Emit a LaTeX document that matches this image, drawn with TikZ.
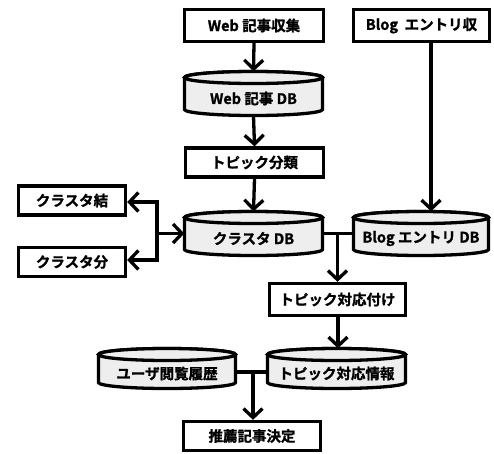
\documentclass[tikz,border=0pt]{standalone}
\usepackage{fontspec}
\setmainfont{Noto Sans CJK JP}[BoldFont={Noto Sans CJK JP Bold},BoldFeatures={FakeBold=1.2}]
\usetikzlibrary{arrows.meta}
\definecolor{cylfill}{HTML}{EEEEEE}
\tikzset{
  lw/.style={line width=3.3pt},
  proc/.style={lw, draw, fill=white, inner sep=0pt, font=\fontsize{14.5}{16}\selectfont\bfseries},
  cylbox/.style={inner sep=0pt, font=\fontsize{14.5}{16}\selectfont\bfseries, yshift=-5pt},
  conn/.style={lw, -{Straight Barb[length=9pt,width=19pt]}},
  plain/.style={lw},
}
% \drawcyl{center x}{center y}{half width}{half height}
\newcommand{\drawcyl}[4]{%
  \path[lw, draw, fill=cylfill]
    (#1-#3,#2+#4-6) -- (#1-#3,#2-#4+6)
    arc[start angle=180,end angle=360,x radius=#3,y radius=6]
    -- (#1+#3,#2+#4-6)
    arc[start angle=0,end angle=180,x radius=#3,y radius=6] -- cycle;
  \draw[lw, fill=cylfill] (#1,#2+#4-6) ellipse[x radius=#3, y radius=6];
}
\begin{document}
\begin{tikzpicture}[x=1pt,y=1pt]
\useasboundingbox (0,0) rectangle (494,-453);
% cylinders
\drawcyl{253.5}{-93.5}{69}{22}
\drawcyl{253.5}{-233.5}{69}{22}
\drawcyl{421}{-233.5}{67.5}{22}
\drawcyl{336.5}{-368.5}{69}{20}
\drawcyl{167}{-368.5}{68.5}{20}
% cylinder nodes (text only)
\node[cylbox, minimum width=138pt, minimum height=44pt] (webdb) at (253.5,-93.5) {Web 記事 DB};
\node[cylbox, minimum width=138pt, minimum height=44pt] (cldb) at (253.5,-233.5) {クラスタ DB};
\node[cylbox, minimum width=135pt, minimum height=44pt] (blogdb) at (421,-233.5) {Blog エントリ DB};
\node[cylbox, minimum width=138pt, minimum height=40pt] (joho) at (336.5,-368.5) {トピック対応情報};
\node[cylbox, minimum width=137pt, minimum height=40pt] (user) at (167,-368.5) {ユーザ閲覧履歴};
% process boxes
\node[proc, minimum width=139pt, minimum height=32pt] (webc) at (254,-25.5) {Web 記事収集};
\node[proc, minimum width=136pt, minimum height=32pt] (blogc) at (421.5,-25.5) {Blog\ \ エントリ収};
\node[proc, minimum width=138pt, minimum height=29pt] (topic) at (254.5,-162.5) {トピック分類};
\node[proc, minimum width=107pt, minimum height=29pt] (ketsu) at (72,-200.5) {クラスタ結};
\node[proc, minimum width=107pt, minimum height=29pt] (bun) at (72,-262) {クラスタ分};
\node[proc, minimum width=136pt, minimum height=32pt] (taiou) at (337.5,-299.5) {トピック対応付け};
\node[proc, minimum width=137pt, minimum height=29pt] (suisen) at (252,-436) {推薦記事決定};
% connectors
\draw[conn] (webc.south) -- ([yshift=5pt]webdb.north);
\draw[conn] ([yshift=5pt]webdb.south) -- (topic.north);
\draw[conn] (topic.south) -- ([yshift=5pt]cldb.north);
\draw[conn] ([xshift=9.5pt]blogc.south) -- ([xshift=10pt,yshift=5pt]blogdb.north);
\draw[plain] ([yshift=5pt]cldb.east) -- ([yshift=5pt]blogdb.west);
\coordinate (jt) at ([yshift=5pt]cldb.east -| taiou.north);
\draw[conn] (jt) -- (taiou.north);
\coordinate (jl) at (157,-233.5);
\draw[conn] (jl) -- ([yshift=5pt]cldb.west);
\draw[conn] (jl) |- ([yshift=-1.5pt]ketsu.east);
\draw[conn] (jl) |- ([yshift=2pt]bun.east);
\draw[conn] ([xshift=0.5pt]taiou.south) -- ([xshift=1.5pt,yshift=5pt]joho.north);
\draw[plain] ([yshift=1.5pt]user.east) -- ([yshift=1.5pt]joho.west);
\coordinate (jb) at ([yshift=1.5pt]user.east -| suisen.north);
\draw[conn] ([xshift=1pt]jb) -- ([xshift=1pt]suisen.north);
\end{tikzpicture}
\end{document}
